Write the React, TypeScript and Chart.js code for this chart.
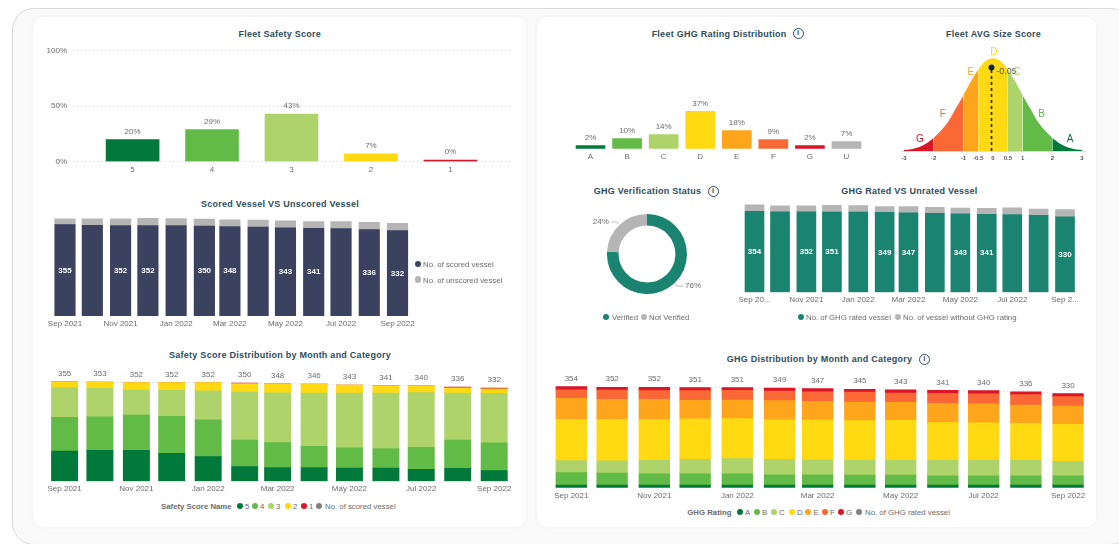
import React, { useEffect, useRef } from "react";
import { Chart, registerables } from "chart.js";

Chart.register(...registerables);

const FONT = '"Liberation Sans", Arial, sans-serif';
Chart.defaults.font.family = FONT;

// ---------- data ----------
const safetyCategories = ["5", "4", "3", "2", "1"];
const safetyPercent = [20, 29, 43, 7, 0];

const months = ["Sep 2021", "Oct 2021", "Nov 2021", "Dec 2021", "Jan 2022", "Feb 2022", "Mar 2022", "Apr 2022", "May 2022", "Jun 2022", "Jul 2022", "Aug 2022", "Sep 2022"];
const monthStartDay = [0, 30, 61, 91, 122, 153, 181, 212, 242, 273, 303, 334, 365];
const shownMonthIndex = [0, 2, 4, 6, 8, 10, 12];

const scoredVessels = [355, 353, 352, 352, 352, 350, 348, 346, 343, 341, 340, 336, 332];
const unscoredVessels = [23, 25, 26, 28, 27, 27, 26, 27, 27, 26, 27, 28, 28];
const scoredLabels = ["355", null, "352", "352", null, "350", "348", null, "343", "341", null, "336", "332"];

const safety5 = [108, 110, 110, 100, 88, 52, 49, 49, 47, 47, 43, 46, 38];
const safety4 = [120, 120, 126, 131, 131, 95, 89, 76, 72, 70, 78, 101, 99];
const safety3 = [106, 101, 89, 93, 103, 171, 177, 189, 195, 197, 195, 167, 176];
const safety2 = [21, 22, 27, 28, 30, 30, 33, 32, 29, 27, 24, 19, 16];
const safety1 = [0, 0, 0, 0, 0, 2, 0, 0, 0, 0, 0, 3, 3];

const ghgCategories = ["A", "B", "C", "D", "E", "F", "G", "U"];
const ghgPercent = [2, 10, 14, 37, 18, 9, 2, 7];

const bellX = [-3, -2.75, -2.5, -2.25, -2, -1.75, -1.5, -1.25, -1, -0.75, -0.5, -0.25, 0, 0.25, 0.5, 0.75, 1, 1.25, 1.5, 1.75, 2, 2.25, 2.5, 2.75, 3];
const bellHeight = [1, 2, 4, 8, 14, 22, 32, 46, 60, 75, 88, 97, 100, 97, 88, 75, 60, 46, 32, 22, 14, 8, 4, 2, 1];
const bellBandNames = ["G", "F", "E", "D", "C", "B", "A"];
const bellBandEdges = [-3, -2, -1, -0.5, 0.5, 1, 2, 3];
const bellTicks = [-3, -2, -1, -0.5, 0, 0.5, 1, 2, 3];
const bellLetterX = [-2.46, -1.69, -0.75, 0.03, 0.8, 1.64, 2.6];
const bellLetterY = [13, 40, 85, 106, 85, 40, 13];
const fleetAvgScore = -0.05;
const fleetAvgHeight = 90;

const verificationNames = ["Verified", "Not Verified"];
const verificationPercent = [76, 24];

const ghgRatedVessels = [354, 352, 352, 351, 351, 349, 347, 345, 343, 341, 340, 336, 330];
const ghgUnratedVessels = [28, 26, 26, 29, 28, 26, 28, 26, 25, 26, 29, 28, 31];
const ghgRatedLabels = ["354", null, "352", "351", null, "349", "347", null, "343", "341", null, null, "330"];
const ghgRatedTickLabels = ["Sep 20...", "Nov 2021", "Jan 2022", "Mar 2022", "May 2022", "Jul 2022", "Sep 2..."];

const ghgA = [9, 9, 9, 9, 9, 9, 9, 9, 9, 9, 9, 9, 9];
const ghgB = [44, 42, 40, 40, 40, 36, 36, 35, 35, 33, 33, 33, 33];
const ghgC = [42, 43, 47, 50, 53, 54, 53, 53, 53, 55, 55, 55, 50];
const ghgD = [144, 145, 143, 142, 140, 139, 139, 138, 139, 131, 130, 128, 130];
const ghgE = [74, 71, 71, 65, 65, 67, 65, 65, 63, 68, 67, 65, 64];
const ghgF = [30, 32, 30, 34, 34, 34, 34, 35, 33, 34, 35, 36, 33];
const ghgG = [11, 10, 12, 11, 10, 10, 11, 10, 11, 11, 11, 10, 11];

// ---------- palette ----------
const C = {
  dark: "#00793A",
  green: "#62BB46",
  light: "#AED36A",
  yellow: "#FFDA12",
  orange: "#FFA51C",
  coral: "#F96835",
  red: "#DC1426",
  gray: "#B5B5B5",
  navy: "#3A4260",
  teal: "#1A8470",
  text: "#6B6B6B",
  title: "#2E4D5C",
};
const TEXT_SIZE = 8;

// ---------- inline label plugin ----------
const labelPlugin = {
  id: "valueLabels",
  afterDatasetsDraw(chart: any) {
    const ctx = chart.ctx;
    chart.data.datasets.forEach((ds: any, di: number) => {
      if (!ds.valueLabels) return;
      const meta = chart.getDatasetMeta(di);
      meta.data.forEach((el: any, i: number) => {
        const t = ds.valueLabels[i];
        if (t === null || t === undefined) return;
        const mode = ds.labelMode || "above";
        const y = mode === "center" ? (el.base !== undefined ? (el.y + el.base) / 2 : el.y) : el.y - (ds.labelOffset ?? 8);
        ctx.save();
        ctx.font = ds.labelFont || `${TEXT_SIZE}px ${FONT}`;
        ctx.fillStyle = Array.isArray(ds.labelColor) ? ds.labelColor[i] : ds.labelColor || C.text;
        ctx.textAlign = "center";
        ctx.textBaseline = "middle";
        ctx.fillText(t, el.x + (ds.labelDx || 0), y + (ds.labelDy || 0));
        ctx.restore();
      });
    });
  },
};

const leaderPlugin = {
  id: "leaders",
  afterDatasetsDraw(chart: any) {
    const ctx = chart.ctx;
    const meta = chart.getDatasetMeta(0);
    const ds = chart.data.datasets[0];
    meta.data.forEach((arc: any, i: number) => {
      const mid = (arc.startAngle + arc.endAngle) / 2;
      const cx = arc.x + Math.cos(mid) * (arc.outerRadius + 1);
      const cy = arc.y + Math.sin(mid) * (arc.outerRadius + 1);
      const ex = cx + Math.cos(mid) * 3;
      const ey = cy + Math.sin(mid) * 3;
      const dir = Math.cos(mid) >= 0 ? 1 : -1;
      ctx.save();
      ctx.strokeStyle = "#BDBDBD";
      ctx.lineWidth = 1;
      ctx.beginPath();
      ctx.moveTo(cx, cy);
      ctx.lineTo(ex, ey);
      ctx.lineTo(ex + dir * 6, ey);
      ctx.stroke();
      ctx.font = `${TEXT_SIZE}px ${FONT}`;
      ctx.fillStyle = C.text;
      ctx.textAlign = dir > 0 ? "left" : "right";
      ctx.textBaseline = "middle";
      ctx.fillText(`${ds.data[i]}%`, ex + dir * 8, ey);
      ctx.restore();
    });
  },
};

// ---------- chart host ----------
type Plot = { x0: number; x1: number; y0: number; y1: number };
type Margin = { l: number; t: number; r: number; b: number };

function frame(p: Plot, m: Margin) {
  const L = Math.floor(p.x0 - m.l);
  const T = Math.floor(p.y0 - m.t);
  const R = Math.ceil(p.x1 + m.r);
  const B = Math.ceil(p.y1 + m.b);
  return {
    L, T, W: R - L, H: B - T,
    padLeft: p.x0 - L,
    padTop: p.y0 - T,
    padRight: R - p.x1,
    xHeight: B - p.y1,
  };
}

function ChartBox({ box, config }: { box: { L: number; T: number; W: number; H: number }; config: any }) {
  const ref = useRef<HTMLCanvasElement>(null);
  useEffect(() => {
    const chart = new Chart(ref.current as HTMLCanvasElement, config);
    return () => chart.destroy();
  }, []);
  return (
    <canvas
      ref={ref}
      width={box.W}
      height={box.H}
      style={{ position: "absolute", left: box.L, top: box.T, width: box.W, height: box.H }}
    />
  );
}

function baseOptions(f: any, hasYAxis: boolean) {
  return {
    responsive: false,
    animation: false,
    devicePixelRatio: 1,
    layout: {
      autoPadding: false,
      padding: { left: hasYAxis ? 0 : f.padLeft, top: f.padTop, right: f.padRight, bottom: 0 },
    },
    plugins: { legend: { display: false }, tooltip: { enabled: false }, title: { display: false } },
  };
}

function hiddenY(max: number) {
  return { display: false, stacked: true, min: 0, max };
}

function linearX(f: any, min: number, max: number, ticks: number[], label: (v: number) => string, extra: any = {}) {
  return {
    type: "linear",
    stacked: true,
    offset: false,
    min,
    max,
    grid: { display: false, drawTicks: false, offset: false },
    border: { display: false },
    afterBuildTicks: (s: any) => {
      s.ticks = ticks.map((value) => ({ value }));
    },
    afterFit: (s: any) => {
      s.height = f.xHeight;
    },
    ticks: {
      autoSkip: false,
      maxRotation: 0,
      minRotation: 0,
      padding: 3,
      color: C.text,
      font: { size: TEXT_SIZE },
      callback: (v: number) => label(v),
    },
    ...extra,
  };
}

const dayPoints = (vals: number[]) => vals.map((y, i) => ({ x: monthStartDay[i], y }));
const dayTicks = shownMonthIndex.map((i) => monthStartDay[i]);
const monthLabelFor = (v: number) => months[monthStartDay.indexOf(v)];

const DAY_MIN = -20;
const DAY_MAX = 385;
const monthPlot = (x0: number, perDay: number, y0: number, y1: number): Plot => ({
  x0: x0 + DAY_MIN * perDay,
  x1: x0 + DAY_MAX * perDay,
  y0,
  y1,
});

function sum(arrays: number[][], i: number) {
  return arrays.reduce((a, s) => a + s[i], 0);
}

// ---------- charts ----------
function FleetSafety() {
  const f = frame({ x0: 73, x1: 510, y0: 48, y1: 161.7 }, { l: 35, t: 8, r: 6, b: 18 });
  const config = {
    type: "bar",
    data: {
      datasets: [{
        data: safetyPercent.map((y, i) => ({ x: i, y })),
        backgroundColor: [C.dark, C.green, C.light, C.yellow, C.red],
        barThickness: 53,
        minBarLength: 1.5,
        valueLabels: safetyPercent.map((v) => `${v}%`),
      }],
    },
    options: {
      ...baseOptions(f, true),
      scales: {
        x: linearX(f, -0.75, 4.75, [0, 1, 2, 3, 4], (v) => safetyCategories[v]),
        y: {
          min: 0,
          max: 100,
          grid: { color: "#CFCFCF", drawTicks: false },
          border: { display: false, dash: [1, 3] },
          afterFit: (s: any) => { s.width = f.padLeft; },
          ticks: { stepSize: 50, padding: 6, color: C.text, font: { size: TEXT_SIZE }, callback: (v: number) => `${v}%` },
        },
      },
    },
    plugins: [labelPlugin],
  };
  return <ChartBox box={f} config={config} />;
}

function TwoPartMonthly({ plot, max, thickness, main, rest, mainColor, labels, tickLabels, mainName, restName }: any) {
  const f = frame(plot, { l: 2, t: 2, r: 2, b: 14 });
  const config = {
    type: "bar",
    data: {
      datasets: [
        {
          label: mainName,
          data: dayPoints(main),
          backgroundColor: mainColor,
          barThickness: thickness,
          valueLabels: labels,
          labelMode: "center",
          labelColor: "#FFFFFF",
          labelFont: `bold ${TEXT_SIZE}px ${FONT}`,
        },
        { label: restName, data: dayPoints(rest), backgroundColor: C.gray, barThickness: thickness },
      ],
    },
    options: {
      ...baseOptions(f, false),
      scales: {
        x: linearX(f, DAY_MIN, DAY_MAX, dayTicks, tickLabels),
        y: hiddenY(max),
      },
    },
    plugins: [labelPlugin],
  };
  return <ChartBox box={f} config={config} />;
}

function Distribution({ plot, max, thickness, series, totalName }: any) {
  const f = frame(plot, { l: 4, t: 2, r: 14, b: 14 });
  const arrays = series.map((s: any) => s.values);
  const totals = months.map((_, i) => sum(arrays, i));
  const config = {
    type: "bar",
    data: {
      datasets: [
        {
          type: "line",
          label: totalName,
          data: dayPoints(totals),
          borderColor: "#C8C8C8",
          borderWidth: 1,
          borderDash: [1, 3],
          pointRadius: 0,
          order: 10,
          stack: "totals",
          valueLabels: totals.map(String),
        },
        ...series.map((s: any) => ({
          label: s.name,
          data: dayPoints(s.values),
          backgroundColor: s.color,
          barThickness: thickness,
          stack: "parts",
          order: 1,
        })),
      ],
    },
    options: {
      ...baseOptions(f, false),
      scales: {
        x: linearX(f, DAY_MIN, DAY_MAX, dayTicks, monthLabelFor),
        y: hiddenY(max),
      },
    },
    plugins: [labelPlugin],
  };
  return <ChartBox box={f} config={config} />;
}

function FleetGhg() {
  const f = frame({ x0: 572.25, x1: 864.75, y0: 95, y1: 148.7 }, { l: 2, t: 2, r: 2, b: 14 });
  const config = {
    type: "bar",
    data: {
      labels: ghgCategories,
      datasets: [{
        data: ghgPercent,
        backgroundColor: [C.dark, C.green, C.light, C.yellow, C.orange, C.coral, C.red, C.gray],
        barThickness: 29,
        minBarLength: 3,
        valueLabels: ghgPercent.map((v) => `${v}%`),
      }],
    },
    options: {
      ...baseOptions(f, false),
      scales: {
        x: {
          grid: { display: false, drawTicks: false },
          border: { display: false },
          afterFit: (s: any) => { s.height = f.xHeight; },
          ticks: { padding: 3, color: C.text, font: { size: TEXT_SIZE }, maxRotation: 0 },
        },
        y: { display: false, min: 0, max: 53.2 },
      },
    },
    plugins: [labelPlugin],
  };
  return <ChartBox box={f} config={config} />;
}

function Bell() {
  const f = frame({ x0: 901, x1: 1085, y0: 44.4, y1: 151 }, { l: 4, t: 2, r: 4, b: 14 });
  const bandColors = [C.red, C.coral, C.orange, C.yellow, C.light, C.green, C.dark];
  const bands = bellBandNames.map((name, b) => ({
    label: name,
    data: bellX
      .map((x, i) => ({ x, y: bellHeight[i] }))
      .filter((p) => p.x >= bellBandEdges[b] && p.x <= bellBandEdges[b + 1]),
    backgroundColor: bandColors[b],
    borderWidth: 0,
    pointRadius: 0,
    tension: 0.35,
    fill: "origin",
    order: 5,
  }));
  const config = {
    type: "line",
    data: {
      datasets: [
        {
          label: "Fleet average",
          data: [{ x: fleetAvgScore, y: 0 }, { x: fleetAvgScore, y: fleetAvgHeight }],
          borderColor: "#12263A",
          borderWidth: 1.6,
          borderDash: [3, 3],
          pointRadius: [0, 3],
          pointBackgroundColor: "#12263A",
          pointBorderWidth: 0,
          fill: false,
          order: 0,
          valueLabels: [null, String(fleetAvgScore)],
          labelMode: "center",
          labelDx: 15,
          labelDy: 3.5,
          labelColor: "#555555",
          labelFont: `9px ${FONT}`,
        },
        {
          label: "Ratings",
          data: bellLetterX.map((x, i) => ({ x, y: bellLetterY[i] })),
          showLine: false,
          pointRadius: 0,
          order: 1,
          valueLabels: bellBandNames,
          labelMode: "center",
          labelFont: `10px ${FONT}`,
          labelColor: bandColors,
        },
        ...bands,
      ],
    },
    options: {
      ...baseOptions(f, false),
      scales: {
        x: {
          type: "linear",
          min: -3.1,
          max: 3.1,
          grid: { display: false, drawTicks: false },
          border: { display: true, color: "#DDDDDD" },
          afterBuildTicks: (s: any) => { s.ticks = bellTicks.map((value) => ({ value })); },
          afterFit: (s: any) => { s.height = f.xHeight; },
          ticks: { autoSkip: false, maxRotation: 0, padding: 4, color: "#555555", font: { size: 6, weight: "bold" }, callback: (v: number) => String(v) },
        },
        y: { display: false, min: 0, max: 115 },
      },
    },
    plugins: [labelPlugin],
  };
  return <ChartBox box={f} config={config} />;
}

function Donut() {
  const box = { L: 567, T: 204, W: 160, H: 100 };
  const config = {
    type: "doughnut",
    data: {
      labels: verificationNames,
      datasets: [{ data: verificationPercent, backgroundColor: [C.teal, C.gray], borderWidth: 0, radius: 40 }],
    },
    options: {
      responsive: false,
      animation: false,
      devicePixelRatio: 1,
      cutout: "71%",
      plugins: { legend: { display: false }, tooltip: { enabled: false } },
    },
    plugins: [leaderPlugin],
  };
  return <ChartBox box={box} config={config} />;
}

// ---------- dom text ----------
function Title({ cx, y, children }: any) {
  return (
    <div style={{ position: "absolute", left: cx, top: y, transform: "translate(-50%,-50%)", whiteSpace: "nowrap", font: `bold 9px ${FONT}`, letterSpacing: "0.25px", color: C.title }}>
      {children}
    </div>
  );
}

function Info({ cx, y }: any) {
  return (
    <div style={{ position: "absolute", left: cx - 5.5, top: y - 5.5, width: 11, height: 11, boxSizing: "border-box", border: `1.3px solid ${C.title}`, borderRadius: "50%", font: `bold 7.5px/8.5px ${FONT}`, textAlign: "center", color: C.title }}>
      i
    </div>
  );
}

function LegendItem({ dot, color, y, text, tx, bold }: any) {
  return (
    <>
      {dot !== undefined && (
        <div style={{ position: "absolute", left: dot - 3.2, top: y - 3.2, width: 6.4, height: 6.4, borderRadius: "50%", background: color }} />
      )}
      <div style={{ position: "absolute", left: tx, top: y, transform: "translateY(-50%)", whiteSpace: "nowrap", font: `${bold ? "bold " : ""}7.8px ${FONT}`, color: C.text }}>
        {text}
      </div>
    </>
  );
}

const safetySeries = [
  { name: "5", values: safety5, color: C.dark },
  { name: "4", values: safety4, color: C.green },
  { name: "3", values: safety3, color: C.light },
  { name: "2", values: safety2, color: C.yellow },
  { name: "1", values: safety1, color: C.red },
];
const ghgSeries = [
  { name: "A", values: ghgA, color: C.dark },
  { name: "B", values: ghgB, color: C.green },
  { name: "C", values: ghgC, color: C.light },
  { name: "D", values: ghgD, color: C.yellow },
  { name: "E", values: ghgE, color: C.orange },
  { name: "F", values: ghgF, color: C.coral },
  { name: "G", values: ghgG, color: C.red },
];

const panel: React.CSSProperties = { position: "absolute", background: "#FFFFFF", borderRadius: 10, boxShadow: "0 0 4px rgba(0,0,0,0.05)" };

export default function App() {
  useEffect(() => {
    document.body.style.margin = "0";
    document.body.style.background = "#FFFFFF";
  }, []);
  const shownTicks = (names: string[]) => (v: number) => names[dayTicks.indexOf(v)];
  return (
    <div style={{ position: "absolute", left: 0, top: 0, width: 1119, height: 544, overflow: "hidden", background: "#FFFFFF", filter: "blur(0.7px)" }}>
      <div style={{ position: "absolute", left: 12, top: 8, width: 1120, height: 537, boxSizing: "border-box", background: "#FAFAFA", border: "1.5px solid #D9D9D9", borderRadius: 22 }} />
      <div style={{ ...panel, left: 33, top: 17, width: 493, height: 510 }} />
      <div style={{ ...panel, left: 537, top: 17, width: 559, height: 510 }} />

      <Title cx={279.7} y={33.5}>Fleet Safety Score</Title>
      <FleetSafety />

      <Title cx={280} y={204}>Scored Vessel VS Unscored Vessel</Title>
      <TwoPartMonthly
        plot={monthPlot(65, 0.911, 216, 316)}
        max={388.8}
        thickness={20.5}
        main={scoredVessels}
        rest={unscoredVessels}
        mainColor={C.navy}
        labels={scoredLabels}
        tickLabels={monthLabelFor}
        mainName="No. of scored vessel"
        restName="No. of unscored vessel"
      />
      <LegendItem dot={418} color={C.navy} y={263.7} tx={423} text="No. of scored vessel" />
      <LegendItem dot={418} color={C.gray} y={279.5} tx={423} text="No. of unscored vessel" />

      <Title cx={280} y={355}>Safety Score Distribution by Month and Category</Title>
      <Distribution plot={monthPlot(64.6, 1.177, 368, 481.3)} max={403.6} thickness={26.3} series={safetySeries} totalName="No. of scored vessel" />
      <LegendItem y={505.7} tx={161} bold text="Safety Score Name" />
      <LegendItem dot={240} color={C.dark} y={505.7} tx={245} text="5" />
      <LegendItem dot={254.7} color={C.green} y={505.7} tx={260} text="4" />
      <LegendItem dot={270.7} color={C.light} y={505.7} tx={276} text="3" />
      <LegendItem dot={287.7} color={C.yellow} y={505.7} tx={293} text="2" />
      <LegendItem dot={304} color={C.red} y={505.7} tx={309} text="1" />
      <LegendItem dot={319.3} color="#808080" y={505.7} tx={325} text="No. of scored vessel" />

      <Title cx={719} y={34}>Fleet GHG Rating Distribution</Title>
      <Info cx={798} y={33.5} />
      <FleetGhg />

      <Title cx={993.5} y={34}>Fleet AVG Size Score</Title>
      <Bell />

      <Title cx={647.5} y={191}>GHG Verification Status</Title>
      <Info cx={713} y={191} />
      <Donut />
      <LegendItem dot={606} color={C.teal} y={316.7} tx={612} text="Verified" />
      <LegendItem dot={644} color={C.gray} y={316.7} tx={649} text="Not Verified" />

      <Title cx={909.3} y={191}>GHG Rated VS Unrated Vessel</Title>
      <TwoPartMonthly
        plot={monthPlot(754.5, 0.8507, 200, 292.3)}
        max={403.4}
        thickness={19}
        main={ghgRatedVessels}
        rest={ghgUnratedVessels}
        mainColor={C.teal}
        labels={ghgRatedLabels}
        tickLabels={shownTicks(ghgRatedTickLabels)}
        mainName="No. of GHG rated vessel"
        restName="No. of vessel without GHG rating"
      />
      <LegendItem dot={801} color={C.teal} y={316.7} tx={806} text="No. of GHG rated vessel" />
      <LegendItem dot={898} color={C.gray} y={316.7} tx={903} text="No. of vessel without GHG rating" />

      <Title cx={819.5} y={359.3}>GHG Distribution by Month and Category</Title>
      <Info cx={924.3} y={359.3} />
      <Distribution plot={monthPlot(571.3, 1.361, 372, 487.7)} max={405.5} thickness={30.7} series={ghgSeries} totalName="No. of GHG rated vessel" />
      <LegendItem y={512.3} tx={687.3} bold text="GHG Rating" />
      <LegendItem dot={740} color={C.dark} y={512.3} tx={745} text="A" />
      <LegendItem dot={756.7} color={C.green} y={512.3} tx={762} text="B" />
      <LegendItem dot={774} color={C.light} y={512.3} tx={779} text="C" />
      <LegendItem dot={791.7} color={C.yellow} y={512.3} tx={797} text="D" />
      <LegendItem dot={808.3} color={C.orange} y={512.3} tx={813.5} text="E" />
      <LegendItem dot={825} color={C.coral} y={512.3} tx={830} text="F" />
      <LegendItem dot={841} color={C.red} y={512.3} tx={846} text="G" />
      <LegendItem dot={859} color="#808080" y={512.3} tx={865} text="No. of GHG rated vessel" />
    </div>
  );
}
